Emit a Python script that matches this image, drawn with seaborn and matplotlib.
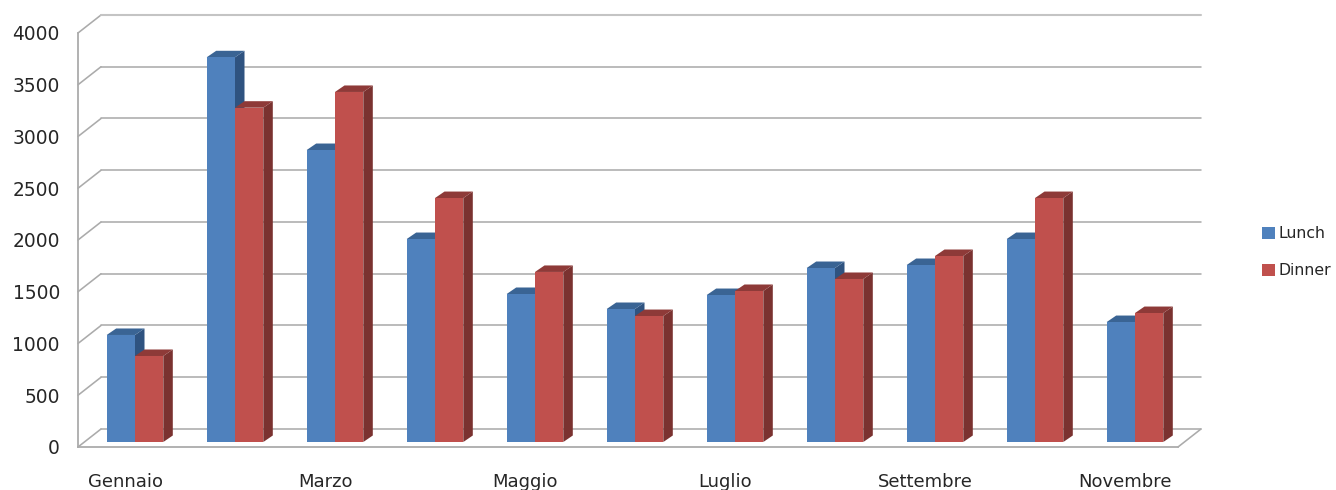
import matplotlib
matplotlib.use("Agg")
import matplotlib.pyplot as plt
from matplotlib.patches import Polygon, Patch
from matplotlib.transforms import Affine2D, ScaledTranslation
import pandas as pd
import seaborn as sns

months = ["Gennaio", "Febbraio", "Marzo", "Aprile", "Maggio", "Giugno",
          "Luglio", "Agosto", "Settembre", "Ottobre", "Novembre"]
lunch = [1034, 3717, 2821, 1961, 1430, 1285, 1420, 1681, 1710, 1961, 1159]
dinner = [831, 3230, 3382, 2357, 1643, 1217, 1459, 1575, 1797, 2357, 1246]
y_ticks = [0, 500, 1000, 1500, 2000, 2500, 3000, 3500, 4000]

W, H = 1336, 490
LEFT, RIGHT, TOP, BOTTOM = 78, 1178, 33, 447
BLUE, RED = "#4f81bd", "#c0504d"
BLUE_SIDE, BLUE_TOP = "#2f5380", "#3a6494"
RED_SIDE, RED_TOP = "#7a3230", "#8e3a38"
GRID = "#ababab"
TEXT = "#262626"

sns.set_theme(style="white")
plt.rcParams["font.family"] = ["DejaVu Sans"]

fig = plt.figure(figsize=(W / 100, H / 100), dpi=100)
ax = fig.add_axes([LEFT / W, 1 - BOTTOM / H, (RIGHT - LEFT) / W, (BOTTOM - TOP) / H])

# Pixel-to-data factors used to fake the perspective depth of the chart.
px_x = 11.0 / (RIGHT - LEFT)
px_y = 4000.0 / (BOTTOM - TOP)
wall_dx, wall_dy = 23 * px_x, 18 * px_y
bar_dx, bar_dy = 7 * px_x, 5 * px_y
side_dx, side_dy = 9.5 * px_x, 6.5 * px_y

df = pd.DataFrame({
    "mese": months * 2,
    "valore": lunch + dinner,
    "serie": ["Lunch"] * len(months) + ["Dinner"] * len(months),
})
sns.barplot(data=df, x="mese", y="valore", hue="serie", hue_order=["Lunch", "Dinner"],
            palette=[BLUE, RED], width=0.566, gap=0, dodge=True, legend=False,
            saturation=1, ax=ax, linewidth=0)

ax.set_xlim(-0.5, 10.5)
ax.set_ylim(0, 4000)

# Back wall and floor lines of the pseudo-3D frame.
for v in y_ticks:
    lw = 1.5 if v == 4000 else 1.15
    col = "#c4c4c4" if v == 4000 else GRID
    ax.plot([-0.5, -0.5 + wall_dx], [v, v + wall_dy], color=GRID, lw=1.15, clip_on=False, zorder=1)
    ax.plot([-0.5 + wall_dx, 10.5 + wall_dx], [v + wall_dy, v + wall_dy],
            color=col, lw=lw, clip_on=False, zorder=1)
ax.plot([10.5, 10.5 + wall_dx], [0, wall_dy], color=GRID, lw=1.15, clip_on=False, zorder=1)

# Shift the bars onto their own depth plane, then add side and top faces.
shift = Affine2D().translate(bar_dx, bar_dy) + ax.transData
styles = [(BLUE_SIDE, BLUE_TOP, 3, 4), (RED_SIDE, RED_TOP, 5, 6)]
bars = list(ax.patches)
n = len(months)
for idx, bar in enumerate(bars):
    side_col, top_col, z_back, z_front = styles[idx // n]
    x0, w, h = bar.get_x(), bar.get_width(), bar.get_height()
    x1 = x0 + w
    bar.set_transform(shift)
    bar.set_zorder(z_front)
    bar.set_clip_on(False)
    ax.add_patch(Polygon([(x1, 0), (x1 + side_dx, side_dy), (x1 + side_dx, h + side_dy), (x1, h)],
                         closed=True, fc=side_col, ec="none", transform=shift,
                         zorder=z_back, clip_on=False))
    ax.add_patch(Polygon([(x0, h), (x0 + side_dx, h + side_dy), (x1 + side_dx, h + side_dy), (x1, h)],
                         closed=True, fc=top_col, ec="none", transform=shift,
                         zorder=z_back, clip_on=False))

ax.set_xticks(range(0, len(months), 2), months[::2])
ax.set_yticks(y_ticks, [str(v) for v in y_ticks])
ax.set_xlabel("")
ax.set_ylabel("")
ax.tick_params(axis="x", length=0, pad=19, labelsize=13, labelcolor=TEXT)
ax.tick_params(axis="y", length=0, pad=13, labelsize=13.4, labelcolor=TEXT)

# Month labels sit slightly left of the category centres.
nudge = ScaledTranslation(-2 / 72, 0, fig.dpi_scale_trans)
for label in ax.get_xticklabels():
    label.set_transform(label.get_transform() + nudge)

ax.patch.set_alpha(0)
sns.despine(ax=ax, top=True, right=True)
for name in ("left", "bottom"):
    ax.spines[name].set_color(GRID)
    ax.spines[name].set_linewidth(1.3)
    ax.spines[name].set_zorder(2)

handles = [Patch(fc=BLUE, ec="none", label="Lunch"), Patch(fc=RED, ec="none", label="Dinner")]
fig.legend(handles=handles, loc="center left", bbox_to_anchor=(1259 / W, 1 - 252 / H),
           frameon=False, fontsize=11.3, labelcolor=TEXT, handlelength=0.8, handleheight=0.8,
           handletextpad=0.25, labelspacing=1.4, borderpad=0.2, borderaxespad=0)

fig.savefig("out.png", dpi=100)
